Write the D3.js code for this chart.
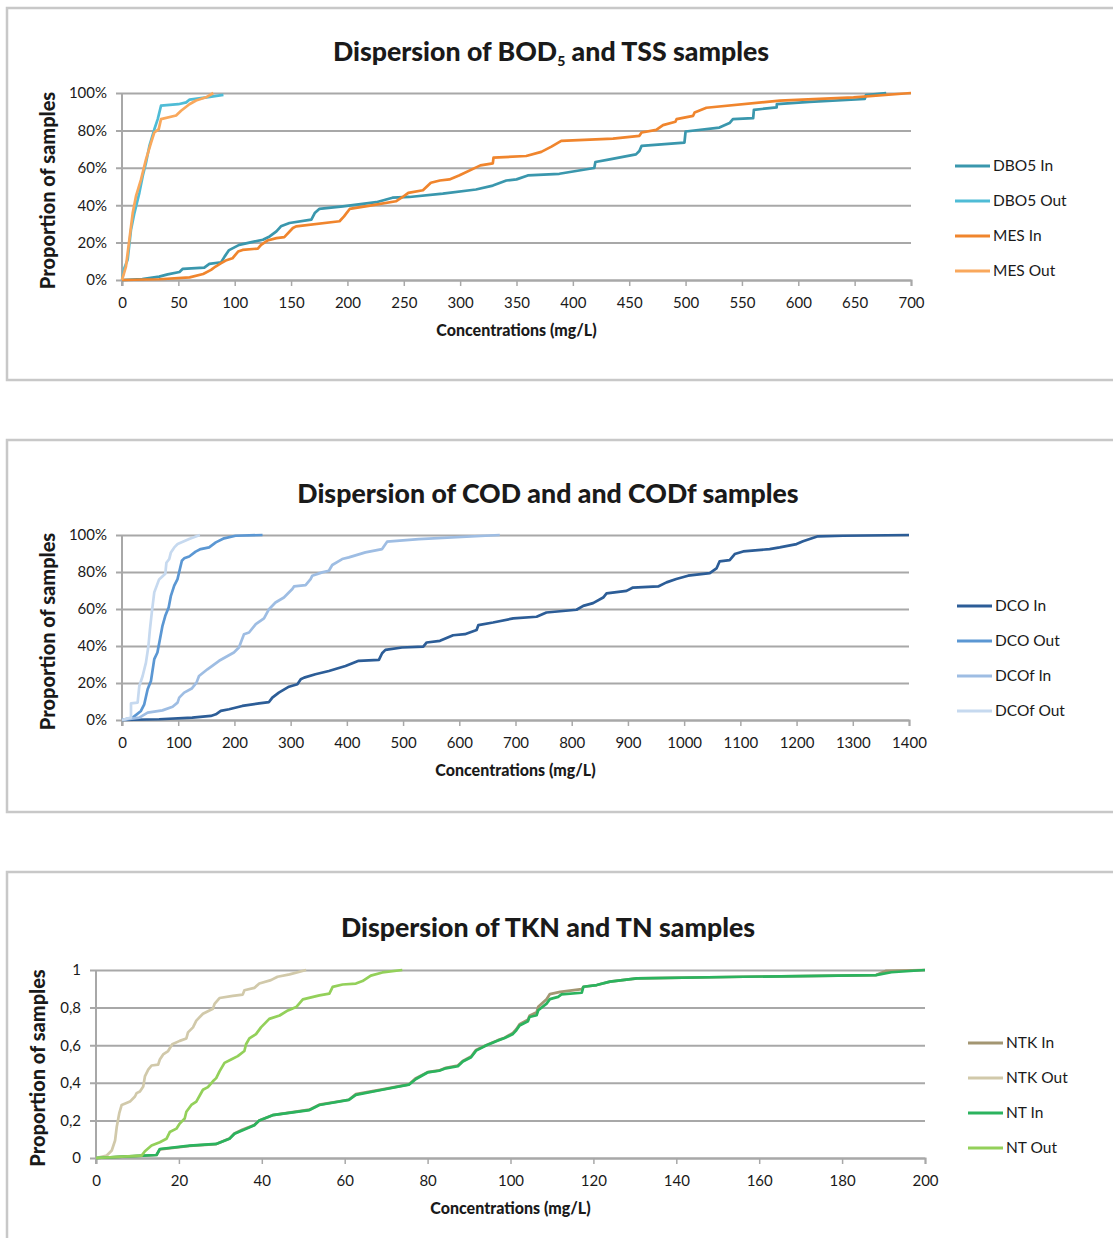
<!DOCTYPE html>
<html>
<head>
<meta charset="utf-8">
<script src="https://cdn.jsdelivr.net/npm/d3@7"></script>
<style>
   body { margin: 0; background: #fff; }
   svg text { font-family: Lato, "Open Sans", sans-serif; fill: #1a1a1a; }
</style>
</head>
<body>
<svg id="chart" width="1113" height="1238"></svg>
<script>
// ---- data: [concentration (mg/L), cumulative proportion] ----
var dbo5In = [[0,0],[18,0.005],[33,0.018],[40.5,0.03],[51,0.043],[54,0.06],[73,0.066],[77.5,0.086],[88,0.095],[91,0.125],[95,0.16],[104,0.188],[116,0.204],[125,0.215],[131,0.233],[137,0.26],[141,0.287],[148.6,0.305],[168,0.323],[171,0.358],[175,0.38],[196,0.394],[225.6,0.416],[240,0.44],[255,0.444],[284.6,0.462],[314,0.484],[329,0.505],[341,0.532],[350,0.538],[360,0.559],[388,0.568],[419,0.599],[420,0.631],[432.7,0.645],[456,0.672],[459,0.69],[461,0.717],[499,0.735],[500,0.794],[530,0.815],[539,0.839],[542,0.86],[560,0.866],[560.6,0.91],[580.8,0.923],[581,0.941],[610,0.953],[659,0.968],[660,0.989],[678,1]];
var dbo5Out = [[0,0],[2,0.063],[5,0.108],[8,0.269],[11,0.358],[15.4,0.466],[18.4,0.556],[21.3,0.627],[24.3,0.717],[28.7,0.806],[31.7,0.86],[34.6,0.932],[50,0.94],[57,0.95],[60,0.965],[75,0.977],[90,0.99]];
var mesIn = [[0,0],[33,0.004],[60,0.014],[72,0.032],[79,0.054],[83,0.072],[88,0.09],[92,0.104],[98,0.116],[103,0.152],[107,0.161],[120.5,0.168],[123.4,0.188],[129,0.211],[137,0.224],[144,0.229],[151.6,0.278],[154.5,0.287],[193,0.314],[197,0.34],[202,0.38],[220,0.398],[243,0.421],[249,0.444],[254,0.466],[267,0.48],[274,0.52],[282,0.532],[290.5,0.538],[299,0.559],[318,0.613],[329,0.624],[329.6,0.654],[358.6,0.663],[372,0.685],[381,0.713],[389.7,0.744],[435.6,0.756],[459,0.771],[461,0.789],[474,0.803],[480,0.828],[491,0.846],[492,0.86],[506.7,0.878],[508,0.896],[518.5,0.921],[583.6,0.959],[649,0.977],[700,1]];
var mesOut = [[0,0],[3.5,0.072],[6.5,0.215],[9.5,0.358],[12.4,0.448],[16.9,0.538],[21.3,0.645],[25.8,0.735],[28.7,0.789],[32.6,0.807],[34.6,0.86],[48,0.88],[52.4,0.905],[59.8,0.94],[65.7,0.96],[74.6,0.977],[81,1]];

var dcoIn = [[0,0],[66,0.004],[125,0.013],[158,0.022],[167,0.031],[175.7,0.049],[190.5,0.058],[214,0.076],[243.8,0.09],[261.5,0.097],[267.4,0.121],[279,0.148],[297,0.18],[312,0.193],[318,0.22],[324,0.229],[344,0.247],[368,0.265],[397.6,0.292],[421,0.32],[457,0.325],[462.7,0.361],[468.6,0.379],[498,0.392],[536,0.397],[542,0.419],[565.7,0.428],[589,0.458],[610,0.464],[630.8,0.487],[634,0.513],[660,0.527],[696,0.549],[737.5,0.558],[755,0.581],[808.6,0.596],[820.5,0.617],[838,0.632],[856,0.662],[862,0.684],[897.5,0.698],[909,0.716],[953.8,0.722],[968.6,0.744],[986,0.762],[1007,0.78],[1045.6,0.794],[1057.5,0.819],[1063,0.857],[1081,0.864],[1090,0.897],[1105,0.911],[1152,0.924],[1170,0.933],[1200,0.951],[1211.5,0.966],[1238,0.993],[1283,0.996],[1400,1]];
var dcoOut = [[0,0],[19,0.013],[33.7,0.049],[39.6,0.085],[45.6,0.166],[51.5,0.211],[57.4,0.329],[63,0.365],[67.5,0.437],[72,0.509],[77,0.563],[83,0.608],[87,0.671],[92.9,0.726],[98.8,0.762],[103,0.816],[106.5,0.861],[110.6,0.874],[119.5,0.884],[131,0.91],[140,0.924],[155,0.933],[166.9,0.96],[181.6,0.982],[202,0.996],[250,1]];
var dcofIn = [[0,0],[30.8,0.013],[45.6,0.04],[72,0.052],[90,0.072],[98.8,0.094],[101.8,0.121],[110.6,0.148],[124,0.17],[132.5,0.202],[137,0.238],[152,0.274],[172.8,0.32],[199,0.365],[208,0.392],[217,0.464],[226,0.473],[238,0.518],[252.6,0.549],[261.5,0.599],[273,0.635],[288,0.662],[303,0.708],[306,0.722],[326.6,0.729],[335.5,0.762],[338.5,0.78],[356,0.798],[368,0.807],[374,0.838],[391.7,0.87],[403.5,0.879],[433,0.906],[462.7,0.924],[471.6,0.964],[528,0.978],[672,1]];
var dcofOut = [[0,0],[16,0.013],[16,0.09],[27.8,0.094],[30.8,0.184],[36.7,0.238],[42.6,0.31],[47,0.4],[49.7,0.49],[53,0.58],[57.4,0.69],[66,0.76],[77,0.79],[79,0.85],[84,0.87],[87,0.906],[93,0.933],[99,0.951],[119.5,0.978],[138.5,1]];

var ntkIn = [[0,0],[11.4,0.012],[14.6,0.016],[15.4,0.046],[22.6,0.064],[29,0.074],[32.2,0.104],[33.4,0.13],[35.4,0.152],[38.2,0.176],[39.4,0.2],[42.6,0.228],[51.5,0.257],[53.9,0.284],[61,0.31],[62.7,0.34],[69.1,0.365],[75.5,0.392],[77.2,0.425],[80,0.457],[82.8,0.466],[84.4,0.48],[87.3,0.492],[88.5,0.516],[90.5,0.54],[91.7,0.575],[94.1,0.6],[97,0.627],[98.6,0.64],[100.6,0.665],[101.4,0.685],[102.2,0.712],[104.2,0.735],[104.6,0.757],[106.3,0.775],[106.7,0.805],[108.7,0.845],[109.5,0.872],[112,0.884],[117.2,0.898],[117.6,0.911],[120.8,0.92],[124,0.938],[130.5,0.955],[156.3,0.964],[188.2,0.973],[190.5,0.995],[200,1]];
var ntkOut = [[0,0],[2.6,0.013],[3.8,0.04],[4.6,0.093],[5,0.165],[5.6,0.237],[6.2,0.282],[8.2,0.3],[9.4,0.327],[9.8,0.345],[10.6,0.354],[11.4,0.38],[11.8,0.434],[12.6,0.47],[13.4,0.492],[15,0.497],[15.4,0.524],[16.2,0.551],[17.4,0.569],[18.4,0.605],[20.2,0.623],[21.8,0.636],[22.2,0.668],[23.4,0.695],[24.2,0.731],[25.8,0.767],[28.2,0.794],[28.6,0.82],[29.8,0.851],[33,0.862],[35.4,0.869],[35.8,0.892],[38.2,0.905],[39.4,0.928],[42.2,0.946],[43.8,0.964],[46.7,0.977],[50.7,1]];
var ntIn = [[0,0],[11.4,0.013],[14.6,0.016],[15.4,0.048],[22.6,0.066],[29,0.075],[32.2,0.102],[33.4,0.129],[35.4,0.147],[38.2,0.174],[39.4,0.2],[42.6,0.228],[51.5,0.255],[53.9,0.282],[61,0.309],[62.7,0.336],[69.1,0.363],[75.5,0.39],[77.2,0.42],[80,0.455],[82.8,0.464],[84.4,0.477],[87.3,0.488],[88.5,0.513],[90.5,0.536],[91.7,0.571],[94.1,0.598],[97,0.625],[98.6,0.638],[100.6,0.66],[101.4,0.679],[102.2,0.705],[104.2,0.727],[104.6,0.75],[106.3,0.759],[106.7,0.786],[108.7,0.821],[109.5,0.845],[111.5,0.857],[112.3,0.87],[117.2,0.879],[117.6,0.911],[120.8,0.92],[124,0.938],[130.5,0.955],[156.3,0.964],[188.2,0.973],[191.9,0.988],[200,1]];
var ntOut = [[0,0],[11,0.013],[11.8,0.036],[13.4,0.066],[15.4,0.084],[17,0.102],[17.8,0.138],[19.4,0.156],[20.2,0.183],[21.4,0.21],[21.8,0.246],[23,0.282],[24.2,0.3],[25.8,0.363],[27,0.377],[28.2,0.408],[29,0.425],[29.8,0.461],[31,0.506],[32.6,0.524],[34.2,0.542],[35.8,0.569],[36.2,0.605],[37,0.636],[38.6,0.659],[39.8,0.695],[41.8,0.74],[44.3,0.758],[46.3,0.785],[48.3,0.803],[49.9,0.844],[53.9,0.865],[56.3,0.874],[57.1,0.91],[59.5,0.923],[62.7,0.928],[64.3,0.941],[66.3,0.97],[69.1,0.987],[73.9,1]];

var yTicks = [0, 0.2, 0.4, 0.6, 0.8, 1];
var commaLabels = ['0', '0,2', '0,4', '0,6', '0,8', '1'];

var panels = [
   {
      box: {top: 8, bottom: 380},
      plot: {left: 122, right: 911, top: 93, bottom: 280},
      title: ['Dispersion of BOD', '5', ' and TSS samples'], titleX: 551, titleY: 61,
      xMax: 700, xStep: 50,
      yFormat: function (d) { return Math.round(d * 100) + '%'; },
      yTitleX: 48,
      legendX: 955, legendY: 166,
      series: [
         {name: 'DBO5 In', data: dbo5In, color: '#3a97ad'},
         {name: 'DBO5 Out', data: dbo5Out, color: '#4fbcd6'},
         {name: 'MES In', data: mesIn, color: '#f0852d'},
         {name: 'MES Out', data: mesOut, color: '#f9a85c'}
      ]
   },
   {
      box: {top: 440, bottom: 812},
      plot: {left: 122, right: 909, top: 535, bottom: 720},
      title: ['Dispersion of COD and and CODf samples'], titleX: 548, titleY: 503,
      xMax: 1400, xStep: 100,
      yFormat: function (d) { return Math.round(d * 100) + '%'; },
      yTitleX: 48,
      legendX: 957, legendY: 606,
      series: [
         {name: 'DCO In', data: dcoIn, color: '#2c5d97'},
         {name: 'DCO Out', data: dcoOut, color: '#5b97d3'},
         {name: 'DCOf In', data: dcofIn, color: '#9ebde3'},
         {name: 'DCOf Out', data: dcofOut, color: '#c6d9ef'}
      ]
   },
   {
      box: {top: 872, bottom: 1250},
      plot: {left: 96, right: 925, top: 970, bottom: 1158},
      title: ['Dispersion of TKN and TN samples'], titleX: 548, titleY: 937,
      xMax: 200, xStep: 20,
      yFormat: function (d, i) { return commaLabels[i]; },
      yTitleX: 38,
      legendX: 968, legendY: 1043,
      series: [
         {name: 'NTK In', data: ntkIn, color: '#a39672'},
         {name: 'NTK Out', data: ntkOut, color: '#d1c9aa'},
         {name: 'NT In', data: ntIn, color: '#2bb35e'},
         {name: 'NT Out', data: ntOut, color: '#93d05a'}
      ]
   }
];

var svg = d3.select('#chart');
var gridColor = '#a8a8a8';

panels.forEach(function (p) {
   var g = svg.append('g');

   // panel frame (runs off the right edge like the original)
   g.append('rect')
      .attr('x', 7).attr('y', p.box.top)
      .attr('width', 1130).attr('height', p.box.bottom - p.box.top)
      .attr('fill', 'none').attr('stroke', '#c8c8c8').attr('stroke-width', 2.5);

   var x = d3.scaleLinear().domain([0, p.xMax]).range([p.plot.left, p.plot.right]);
   var y = d3.scaleLinear().domain([0, 1]).range([p.plot.bottom, p.plot.top]);

   // horizontal gridlines + y labels
   var yAxis = d3.axisLeft(y).tickValues(yTicks).tickSize(-(p.plot.right - p.plot.left)).tickPadding(15)
      .tickFormat(p.yFormat);
   var yg = g.append('g').attr('transform', 'translate(' + p.plot.left + ',0)').call(yAxis);
   yg.select('.domain').remove();
   yg.selectAll('.tick line').attr('stroke', gridColor).attr('stroke-width', 2).attr('x1', -6);
   yg.selectAll('.tick text').style('font-size', '15px').attr('fill', '#1a1a1a');

   // vertical axis line
   g.append('line')
      .attr('x1', p.plot.left).attr('x2', p.plot.left)
      .attr('y1', p.plot.top).attr('y2', p.plot.bottom + 6)
      .attr('stroke', gridColor).attr('stroke-width', 2);

   // x axis
   var xAxis = d3.axisBottom(x).tickValues(d3.range(0, p.xMax + 1, p.xStep))
      .tickFormat(d3.format('d')).tickSize(6).tickPadding(11);
   var xg = g.append('g').attr('transform', 'translate(0,' + p.plot.bottom + ')').call(xAxis);
   xg.select('.domain').attr('stroke', gridColor).attr('stroke-width', 2);
   xg.selectAll('.tick line').attr('stroke', gridColor).attr('stroke-width', 1.5);
   xg.selectAll('.tick text').style('font-size', '15px').attr('fill', '#1a1a1a');

   // curves
   var line = d3.line()
      .x(function (d) { return x(d[0]); })
      .y(function (d) { return y(d[1]); });

   p.series.forEach(function (s) {
      g.append('path')
         .datum(s.data)
         .attr('d', line)
         .attr('fill', 'none')
         .attr('stroke', s.color)
         .attr('stroke-width', 2.7)
         .attr('stroke-linejoin', 'round');
   });

   // title
   var t = g.append('text')
      .attr('x', p.titleX).attr('y', p.titleY)
      .attr('text-anchor', 'middle')
      .style('font-size', '26.7px').style('font-weight', 900);
   t.append('tspan').text(p.title[0]);
   if (p.title.length > 1) {
      t.append('tspan').text(p.title[1]).style('font-size', '14px').attr('dy', 5);
      t.append('tspan').text(p.title[2]).attr('dy', -5);
   }

   // axis titles
   g.append('text')
      .attr('x', (p.plot.left + p.plot.right) / 2).attr('y', p.plot.bottom + 56)
      .attr('text-anchor', 'middle')
      .style('font-size', '16px').style('font-weight', 900)
      .text('Concentrations (mg/L)');

   g.append('text')
      .attr('transform', 'translate(' + (p.yTitleX + 7) + ',' + ((p.plot.top + p.plot.bottom) / 2 + 4) + ') rotate(-90)')
      .attr('text-anchor', 'middle')
      .style('font-size', '20px').style('font-weight', 900)
      .text('Proportion of samples');

   // legend
   var item = g.selectAll('.legendItem')
      .data(p.series)
      .enter().append('g')
      .attr('transform', function (d, i) {
         return 'translate(' + p.legendX + ',' + (p.legendY + i * 35) + ')';
      });

   item.append('line')
      .attr('x1', 0).attr('x2', 35)
      .attr('stroke', function (d) { return d.color; })
      .attr('stroke-width', 3);

   item.append('text')
      .attr('x', 38).attr('dy', '0.35em')
      .style('font-size', '15.5px')
      .text(function (d) { return d.name; });
});
</script>
</body>
</html>
